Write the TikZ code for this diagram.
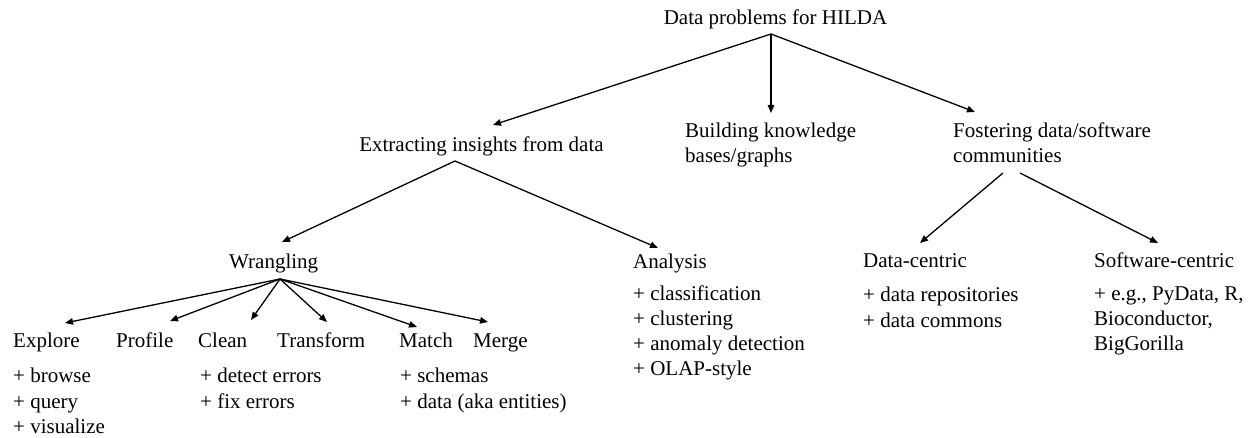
\documentclass[tikz,border=0pt]{standalone}
\usepackage{fontspec}
\setmainfont{Liberation Serif}
\usetikzlibrary{arrows.meta}
\begin{document}
\begin{tikzpicture}[x=1pt,y=-1pt,
  lbl/.style={inner sep=0pt, font=\fontsize{21}{25.3}\selectfont, anchor=base west, align=left},
  arr/.style={-{Triangle[length=8pt,width=6.5pt]}, line width=1.3pt}]
\useasboundingbox[fill=white] (0,0) rectangle (1250,438);
% text nodes (multi-line nodes are placed by the baseline of their last line)
\node[lbl, anchor=base] (root) at (775.5,25) {Data problems for HILDA};
\node[lbl, anchor=base] (ext) at (481.5,151.5) {Extracting insights from data};
\node[lbl] (bld) at (685,162.5) {Building knowledge\\bases/graphs};
\node[lbl] (fos) at (953,162.5) {Fostering data/software\\communities};
\node[lbl] (wr) at (229,269) {Wrangling};
\node[lbl] (an) at (633,269) {Analysis};
\node[lbl] (dc) at (863,268) {Data-centric};
\node[lbl] (sc) at (1094,268) {Software-centric};
\node[lbl] (exp) at (13,347) {Explore};
\node[lbl] (pro) at (116,347) {Profile};
\node[lbl] (cln) at (198,347) {Clean};
\node[lbl] (trf) at (277,347) {Transform};
\node[lbl] (mat) at (399,347) {Match};
\node[lbl] (mrg) at (473,347) {Merge};
\node[lbl] (explist) at (13,433.3) {+ browse\\+ query\\+ visualize};
\node[lbl] (clnlist) at (200,408) {+ detect errors\\+ fix errors};
\node[lbl] (matlist) at (400,408) {+ schemas\\+ data (aka entities)};
\node[lbl] (anlist) at (633,375.9) {+ classification\\+ clustering\\+ anomaly detection\\+ OLAP-style};
\node[lbl] (dclist) at (863,327) {+ data repositories\\+ data commons};
\node[lbl] (sclist) at (1094,350.6) {+ e.g., PyData, R,\\Bioconductor,\\BigGorilla};
% connector end points
\coordinate (rootS) at (771,34);
\coordinate (extN) at (493,125);
\coordinate (bldN) at (771,113);
\coordinate (fosN) at (975,112);
\coordinate (extS) at (455,161);
\coordinate (wrN) at (282,242);
\coordinate (anN) at (658,248);
\coordinate (fosS1) at (1003,173);
\coordinate (fosS2) at (1020,173);
\coordinate (dcN) at (920,243);
\coordinate (scN) at (1158,243);
\coordinate (wrS) at (280,279);
\coordinate (expN) at (65,323);
\coordinate (proN) at (170,321);
\coordinate (clnN) at (251,320);
\coordinate (trfN) at (327,322);
\coordinate (matN) at (417,327);
\coordinate (mrgN) at (488,322);
% connectors
\draw[arr] (rootS) -- (extN);
\draw[arr] (rootS) -- (bldN);
\draw[arr] (rootS) -- (fosN);
\draw[arr] (extS) -- (wrN);
\draw[arr] (extS) -- (anN);
\draw[arr] (fosS1) -- (dcN);
\draw[arr] (fosS2) -- (scN);
\draw[arr] (wrS) -- (expN);
\draw[arr] (wrS) -- (proN);
\draw[arr] (wrS) -- (clnN);
\draw[arr] (wrS) -- (trfN);
\draw[arr] (wrS) -- (matN);
\draw[arr] (wrS) -- (mrgN);
\end{tikzpicture}
\end{document}
